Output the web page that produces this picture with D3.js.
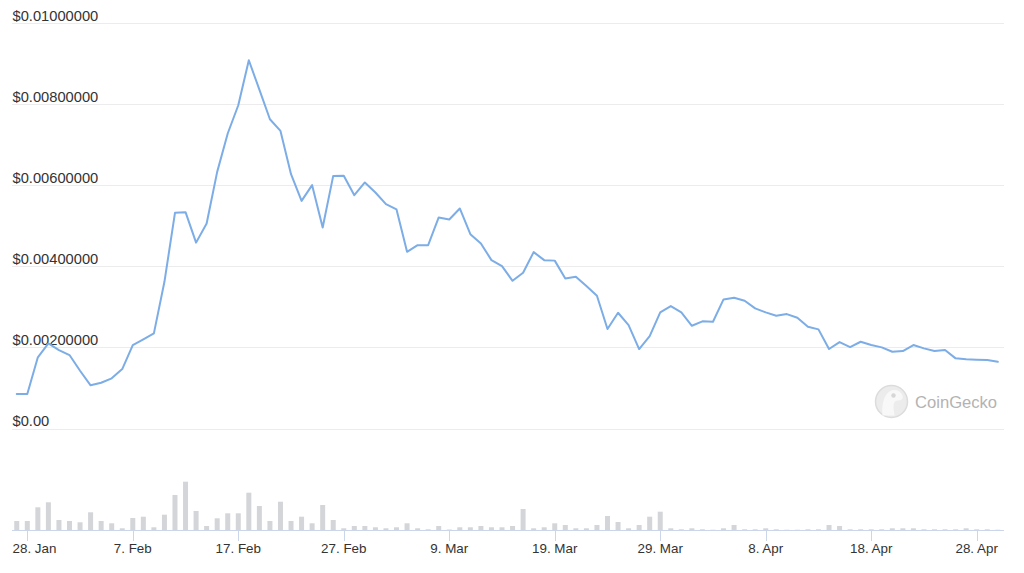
<!DOCTYPE html>
<html><head><meta charset="utf-8">
<script src="https://cdn.jsdelivr.net/npm/d3@7"></script>
<style>html,body{margin:0;padding:0;background:#fff;}svg{display:block;}</style>
</head><body>
<svg id="chart" width="1024" height="573"></svg>
<script>
const dates = ["2023-01-27","2023-01-28","2023-01-29","2023-01-30","2023-01-31","2023-02-01","2023-02-02","2023-02-03","2023-02-04","2023-02-05","2023-02-06","2023-02-07","2023-02-08","2023-02-09","2023-02-10","2023-02-11","2023-02-12","2023-02-13","2023-02-14","2023-02-15","2023-02-16","2023-02-17","2023-02-18","2023-02-19","2023-02-20","2023-02-21","2023-02-22","2023-02-23","2023-02-24","2023-02-25","2023-02-26","2023-02-27","2023-02-28","2023-03-01","2023-03-02","2023-03-03","2023-03-04","2023-03-05","2023-03-06","2023-03-07","2023-03-08","2023-03-09","2023-03-10","2023-03-11","2023-03-12","2023-03-13","2023-03-14","2023-03-15","2023-03-16","2023-03-17","2023-03-18","2023-03-19","2023-03-20","2023-03-21","2023-03-22","2023-03-23","2023-03-24","2023-03-25","2023-03-26","2023-03-27","2023-03-28","2023-03-29","2023-03-30","2023-03-31","2023-04-01","2023-04-02","2023-04-03","2023-04-04","2023-04-05","2023-04-06","2023-04-07","2023-04-08","2023-04-09","2023-04-10","2023-04-11","2023-04-12","2023-04-13","2023-04-14","2023-04-15","2023-04-16","2023-04-17","2023-04-18","2023-04-19","2023-04-20","2023-04-21","2023-04-22","2023-04-23","2023-04-24","2023-04-25","2023-04-26","2023-04-27","2023-04-28","2023-04-29","2023-04-30"];

const prices = [0.000851,0.000851,0.001756,0.002101,0.001936,0.001813,0.001425,0.001065,0.001129,0.001238,0.001467,0.002059,0.002200,0.002348,0.003620,0.005322,0.005339,0.004587,0.005060,0.006333,0.007280,0.007978,0.009088,0.008365,0.007633,0.007344,0.006276,0.005618,0.006005,0.004962,0.006234,0.006239,0.005758,0.006072,0.005825,0.005536,0.005406,0.004360,0.004525,0.004525,0.005208,0.005159,0.005430,0.004797,0.004567,0.004155,0.004007,0.003645,0.003842,0.004353,0.004155,0.004143,0.003704,0.003744,0.003514,0.003275,0.002454,0.002856,0.002552,0.001961,0.002281,0.002866,0.003021,0.002866,0.002535,0.002644,0.002634,0.003186,0.003226,0.003152,0.002964,0.002866,0.002782,0.002824,0.002732,0.002510,0.002446,0.001961,0.002133,0.002010,0.002141,0.002059,0.002002,0.001894,0.001911,0.002059,0.001978,0.001911,0.001936,0.001731,0.001707,0.001697,0.001689,0.001647];

const volumes = [9000,9000,22700,27700,10000,9000,7700,17700,9000,6700,1700,12000,13300,2700,15300,35000,48300,19000,4000,11700,16700,16700,37300,24000,9000,28300,9000,13300,6700,25000,10000,1700,4000,4000,2700,1700,2700,6700,1700,700,4000,500,2700,2700,4000,2700,2700,4000,21000,1700,2700,6700,5000,1700,1700,5000,14000,8000,1700,5000,13300,18300,1700,700,1700,700,300,1700,5000,700,700,1700,700,300,300,700,700,5000,4000,700,700,700,700,1700,1700,1700,700,700,700,700,1700,700,700,300];

const tickDates = ["2023-01-28","2023-02-07","2023-02-17","2023-02-27","2023-03-09","2023-03-19","2023-03-29","2023-04-08","2023-04-18","2023-04-28"];
const tickLabels = ["28. Jan","7. Feb","17. Feb","27. Feb","9. Mar","19. Mar","29. Mar","8. Apr","18. Apr","28. Apr"];
const priceTicks = [0,0.002,0.004,0.006,0.008,0.01];
const priceTickLabels = ["$0.00","$0.00200000","$0.00400000","$0.00600000","$0.00800000","$0.01000000"];

const parse = d3.utcParse("%Y-%m-%d");
const data = dates.map((d,i)=>({date:parse(d), price:prices[i], volume:volumes[i]}));

const svg = d3.select("#chart");
const plotLeft = 12, plotRight = 1004;
const font = "'Liberation Sans', Arial, sans-serif";

const x = d3.scaleUtc().domain([parse("2023-01-28"), parse("2023-04-28")]).range([27.3, 976.7]);
const y = d3.scaleLinear().domain([0, 0.01]).range([428.5, 23.3]);
const yv = d3.scaleLinear().domain([0, 90000]).range([530, 440]);

// grid lines
svg.append("g").selectAll("line").data(priceTicks).join("line")
  .attr("x1", plotLeft).attr("x2", plotRight)
  .attr("y1", d=>Math.round(y(d))+0.5).attr("y2", d=>Math.round(y(d))+0.5)
  .attr("stroke", "#ececec").attr("stroke-width", 1);

// y labels
svg.append("g").selectAll("text").data(priceTicks).join("text")
  .attr("x", 12.5).attr("y", d=>y(d)-2.5)
  .attr("font-family", font).attr("font-size", 14.7).attr("fill", "#333")
  .text((d,i)=>priceTickLabels[i]);

// watermark
const wm = svg.append("g").attr("transform","translate(891.5,401.5)");
wm.append("circle").attr("r",16).attr("fill","#ececec").attr("stroke","#dcdcdc").attr("stroke-width",1.5);
wm.append("path").attr("d","M-9,14 C-10,4 -8,-6 -2,-10 C3,-13 9,-11 11,-6 C12,-3 10,-1 6,-1 C3,-1 2,2 2,6 L3,14 Z").attr("fill","#f8f8f8");
wm.append("circle").attr("cx",2).attr("cy",-6).attr("r",2.2).attr("fill","#d6d6d6");
svg.append("text").attr("x",915).attr("y",407.5)
  .attr("font-family", font).attr("font-size",16.6).attr("fill","#b3b3b3").text("CoinGecko");

// volume bars
svg.append("g").selectAll("rect").data(data).join("rect")
  .attr("x", d=>x(d.date)-2.5).attr("width", 5)
  .attr("y", d=>yv(d.volume)).attr("height", d=>530 - yv(d.volume))
  .attr("fill", "#d3d5d8");

// x axis line
svg.append("line").attr("x1", plotLeft).attr("x2", plotRight).attr("y1",530.5).attr("y2",530.5)
  .attr("stroke","#ccd6eb").attr("stroke-width",1);
const tdata = tickDates.map((d,i)=>({date:parse(d), label:tickLabels[i]}));
svg.append("g").selectAll("line").data(tdata).join("line")
  .attr("x1", d=>Math.round(x(d.date))+0.5).attr("x2", d=>Math.round(x(d.date))+0.5)
  .attr("y1",530).attr("y2",541).attr("stroke","#ccd6eb").attr("stroke-width",1);
svg.append("g").selectAll("text").data(tdata).join("text")
  .attr("x", (d,i)=> i===0 ? 12.5 : x(d.date))
  .attr("text-anchor", (d,i)=> i===0 ? "start" : "middle")
  .attr("y", 553)
  .attr("font-family", font).attr("font-size", 13.4).attr("fill", "#333")
  .text(d=>d.label);

// price line
const line = d3.line().x(d=>x(d.date)).y(d=>y(d.price));
svg.append("path").datum(data).attr("d", line)
  .attr("fill","none").attr("stroke","#7cade6").attr("stroke-width",2)
  .attr("stroke-linejoin","round").attr("stroke-linecap","round");
</script>
</body></html>
